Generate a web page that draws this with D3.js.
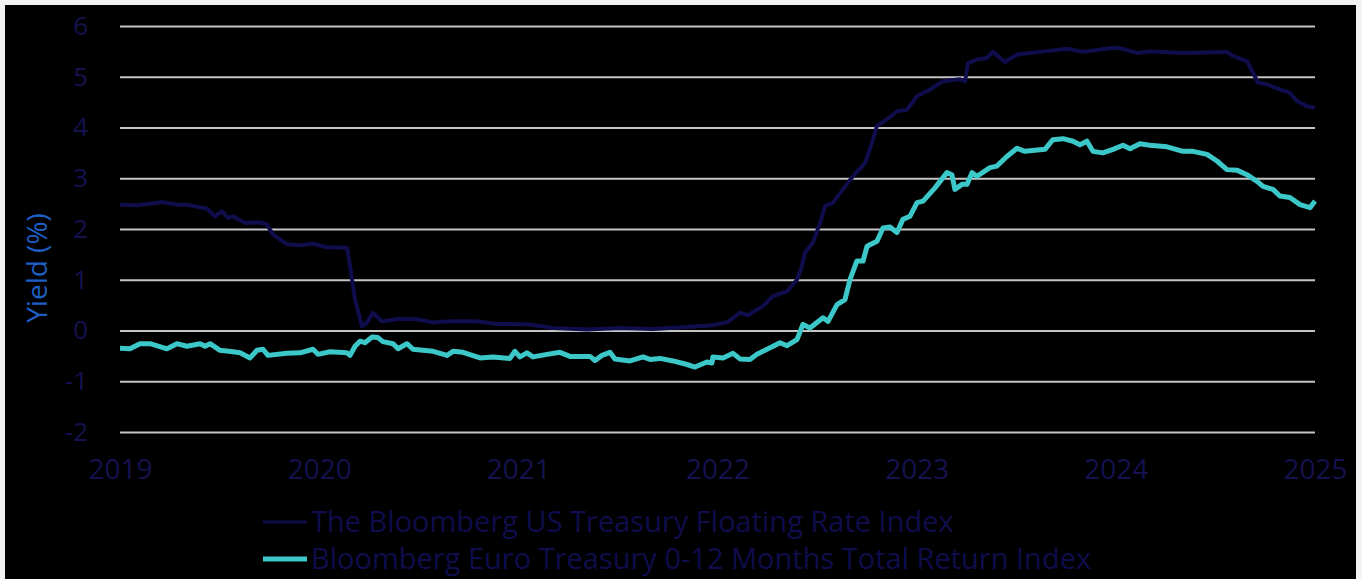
<!DOCTYPE html>
<html lang="en">
<head>
    <meta charset="utf-8">
    <title>Yield chart</title>
    <script src="https://cdn.jsdelivr.net/npm/d3@7"></script>
    <style>
        body { margin: 0; background: #f2f2f2; }
        svg { display: block; font-family: "Open Sans", sans-serif; }
    </style>
</head>
<body>
    <script>
        // Years shown on the x axis
        var yearTicks = [2019, 2020, 2021, 2022, 2023, 2024, 2025];
        var yTicks = [-2, -1, 0, 1, 2, 3, 4, 5, 6];

        // US floating rate index: time (decimal year) and yield (%)
        var usTime = [2019.000, 2019.085, 2019.216, 2019.286, 2019.336, 2019.437, 2019.477, 2019.512, 2019.542, 2019.567,
            2019.628, 2019.703, 2019.738, 2019.768, 2019.838, 2019.904, 2019.969, 2020.039, 2020.140, 2020.155,
            2020.180, 2020.215, 2020.240, 2020.270, 2020.315, 2020.406, 2020.491, 2020.572, 2020.657, 2020.792,
            2020.893, 2021.059, 2021.174, 2021.345, 2021.510, 2021.676, 2021.847, 2021.962, 2022.048, 2022.113,
            2022.153, 2022.228, 2022.279, 2022.349, 2022.399, 2022.424, 2022.439, 2022.479, 2022.515, 2022.540,
            2022.580, 2022.630, 2022.680, 2022.741, 2022.776, 2022.801, 2022.851, 2022.901, 2022.951, 2023.002,
            2023.067, 2023.132, 2023.218, 2023.243, 2023.258, 2023.303, 2023.353, 2023.383, 2023.443, 2023.504,
            2023.619, 2023.755, 2023.835, 2023.986, 2024.036, 2024.106, 2024.171, 2024.337, 2024.558, 2024.588,
            2024.658, 2024.689, 2024.714, 2024.759, 2024.824, 2024.874, 2024.910, 2024.960, 2025.000];
        var usYield = [2.48, 2.47, 2.53, 2.48, 2.48, 2.40, 2.25, 2.35, 2.22, 2.25,
            2.12, 2.13, 2.09, 1.89, 1.70, 1.68, 1.71, 1.64, 1.63, 1.27,
            0.61, 0.08, 0.16, 0.35, 0.18, 0.23, 0.22, 0.16, 0.18, 0.18,
            0.13, 0.12, 0.05, 0.02, 0.05, 0.03, 0.07, 0.10, 0.16, 0.35,
            0.30, 0.48, 0.68, 0.77, 1.00, 1.27, 1.53, 1.73, 2.12, 2.45,
            2.52, 2.78, 3.04, 3.30, 3.70, 4.03, 4.16, 4.32, 4.35, 4.62,
            4.75, 4.91, 4.95, 4.91, 5.27, 5.34, 5.37, 5.49, 5.29, 5.44,
            5.49, 5.55, 5.49, 5.57, 5.55, 5.47, 5.50, 5.47, 5.49, 5.41,
            5.31, 5.08, 4.88, 4.85, 4.75, 4.68, 4.52, 4.42, 4.39];

        // Euro treasury 0-12 months index: time (decimal year) and yield (%)
        var euTime = [2019.000, 2019.050, 2019.100, 2019.151, 2019.236, 2019.286, 2019.336, 2019.402, 2019.427, 2019.452,
            2019.502, 2019.567, 2019.603, 2019.653, 2019.688, 2019.718, 2019.743, 2019.838, 2019.904, 2019.969,
            2019.994, 2020.054, 2020.140, 2020.155, 2020.180, 2020.205, 2020.230, 2020.265, 2020.295, 2020.320,
            2020.371, 2020.396, 2020.441, 2020.471, 2020.572, 2020.642, 2020.672, 2020.722, 2020.808, 2020.873,
            2020.958, 2020.983, 2021.008, 2021.043, 2021.074, 2021.144, 2021.209, 2021.259, 2021.360, 2021.385,
            2021.420, 2021.460, 2021.485, 2021.561, 2021.626, 2021.661, 2021.711, 2021.777, 2021.847, 2021.887,
            2021.947, 2021.972, 2021.977, 2022.028, 2022.078, 2022.113, 2022.163, 2022.198, 2022.264, 2022.314,
            2022.349, 2022.399, 2022.429, 2022.464, 2022.530, 2022.555, 2022.600, 2022.640, 2022.665, 2022.700,
            2022.731, 2022.751, 2022.801, 2022.831, 2022.866, 2022.901, 2022.931, 2022.966, 2023.002, 2023.032,
            2023.092, 2023.152, 2023.177, 2023.192, 2023.228, 2023.253, 2023.278, 2023.303, 2023.368, 2023.403,
            2023.453, 2023.504, 2023.544, 2023.644, 2023.684, 2023.735, 2023.785, 2023.820, 2023.855, 2023.885,
            2023.935, 2023.986, 2024.036, 2024.071, 2024.121, 2024.171, 2024.257, 2024.337, 2024.387, 2024.458,
            2024.508, 2024.558, 2024.608, 2024.658, 2024.709, 2024.739, 2024.789, 2024.824, 2024.874, 2024.925,
            2024.975, 2025.000];
        var euYield = [-0.35, -0.36, -0.26, -0.26, -0.36, -0.26, -0.31, -0.26, -0.31, -0.26,
            -0.39, -0.42, -0.44, -0.54, -0.39, -0.37, -0.49, -0.45, -0.44, -0.37,
            -0.47, -0.42, -0.44, -0.49, -0.31, -0.21, -0.24, -0.13, -0.14, -0.22,
            -0.26, -0.36, -0.26, -0.37, -0.41, -0.49, -0.41, -0.43, -0.54, -0.52,
            -0.55, -0.41, -0.52, -0.44, -0.52, -0.47, -0.43, -0.51, -0.51, -0.59,
            -0.49, -0.43, -0.56, -0.60, -0.52, -0.57, -0.55, -0.60, -0.67, -0.72,
            -0.62, -0.64, -0.52, -0.54, -0.45, -0.56, -0.57, -0.47, -0.34, -0.24,
            -0.30, -0.18, 0.12, 0.05, 0.25, 0.18, 0.51, 0.61, 1.00, 1.37,
            1.37, 1.66, 1.76, 2.02, 2.04, 1.93, 2.19, 2.25, 2.52, 2.55,
            2.81, 3.11, 3.07, 2.78, 2.88, 2.88, 3.11, 3.04, 3.21, 3.24,
            3.43, 3.59, 3.53, 3.57, 3.76, 3.78, 3.73, 3.66, 3.73, 3.53,
            3.50, 3.57, 3.65, 3.58, 3.68, 3.65, 3.62, 3.53, 3.53, 3.47,
            3.34, 3.17, 3.16, 3.07, 2.94, 2.84, 2.78, 2.65, 2.62, 2.48,
            2.42, 2.55];

        var legendLabels = ["The Bloomberg US Treasury Floating Rate Index",
            "Bloomberg Euro Treasury 0-12 Months Total Return Index"];

        var width = 1362;
        var height = 579;
        var navy = "#100d4c";
        var teal = "#3cc8c9";

        var svg = d3.select("body")
            .append("svg")
            .attr("width", width)
            .attr("height", height);

        // black panel inside a thin light frame
        svg.append("rect")
            .attr("x", 5).attr("y", 5)
            .attr("width", 1351).attr("height", 574)
            .attr("fill", "#000");

        var x = d3.scaleLinear().domain([2019, 2025]).range([120, 1315]);
        var y = d3.scaleLinear().domain([-2, 6]).range([432, 26]);

        // horizontal gridlines (labels use a plain hyphen like the original)
        var yAxis = d3.axisLeft(y)
            .tickValues(yTicks)
            .tickSize(-(x.range()[1] - x.range()[0]))
            .tickPadding(32)
            .tickFormat(function(d) { return String(d); });

        var gy = svg.append("g")
            .attr("transform", "translate(120,0)")
            .call(yAxis);
        gy.select(".domain").remove();
        gy.selectAll("line").attr("stroke", "#c4c4c4").attr("stroke-width", 2);
        gy.selectAll("text")
            .attr("fill", "#15124f")
            .style("font-size", "26px")
            .style("font-family", "'Open Sans', sans-serif");

        var xAxis = d3.axisBottom(x)
            .tickValues(yearTicks)
            .tickSize(0)
            .tickPadding(0)
            .tickFormat(d3.format("d"));

        var gx = svg.append("g")
            .attr("transform", "translate(0,459)")
            .call(xAxis);
        gx.select(".domain").remove();
        gx.selectAll("text")
            .attr("fill", "#15124f")
            .style("font-size", "28px")
            .style("font-family", "'Open Sans', sans-serif");

        // y axis title
        svg.append("text")
            .attr("transform", "translate(47,268) rotate(-90)")
            .attr("text-anchor", "middle")
            .attr("fill", "#1f5fc4")
            .style("font-size", "28px")
            .text("Yield (%)");

        var line = d3.line()
            .x(function(d) { return x(d[0]); })
            .y(function(d) { return y(d[1]); });

        svg.append("path")
            .datum(d3.zip(usTime, usYield))
            .attr("fill", "none")
            .attr("stroke", navy)
            .attr("stroke-width", 4)
            .attr("stroke-linejoin", "round")
            .attr("d", line);

        svg.append("path")
            .datum(d3.zip(euTime, euYield))
            .attr("fill", "none")
            .attr("stroke", teal)
            .attr("stroke-width", 5)
            .attr("stroke-linejoin", "round")
            .attr("d", line);

        // legend
        var legend = svg.append("g");
        var legendItems = legend.selectAll("g")
            .data(legendLabels)
            .enter()
            .append("g")
            .attr("transform", function(d, i) { return "translate(263," + (522 + i * 37) + ")"; });

        legendItems.append("line")
            .attr("x1", 0).attr("x2", 44)
            .attr("stroke", function(d, i) { return i === 0 ? navy : teal; })
            .attr("stroke-width", function(d, i) { return i === 0 ? 3 : 5; });

        legendItems.append("text")
            .attr("x", 48)
            .attr("dy", "0.35em")
            .attr("fill", "#100d4c")
            .style("font-size", "29px")
            .text(function(d) { return d; });
    </script>
</body>
</html>
